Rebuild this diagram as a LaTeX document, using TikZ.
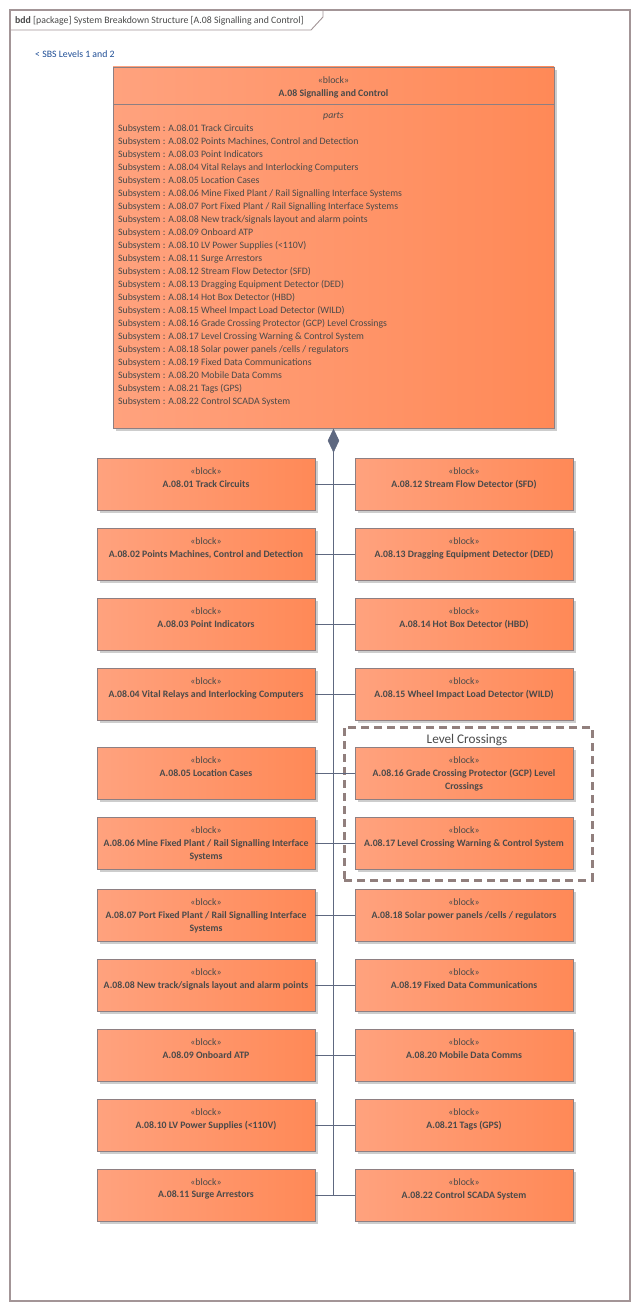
\documentclass[tikz,border=0pt]{standalone}
\usepackage{fontspec}
\setmainfont{Carlito}
\usetikzlibrary{shapes.geometric,shadows}

\definecolor{blkL}{HTML}{FFA27E}
\definecolor{blkR}{HTML}{FF8957}
\definecolor{blkEdge}{HTML}{8E7F82}
\definecolor{shade}{HTML}{CDCDCD}
\definecolor{ink}{HTML}{4A4A4A}
\definecolor{wire}{HTML}{5E6880}
\definecolor{frameEdge}{HTML}{A39597}
\definecolor{groupEdge}{HTML}{917F7D}
\definecolor{linkBlue}{HTML}{1F4E96}

\tikzset{
  x=1pt, y=-1pt,
  smallfont/.style={font=\fontsize{9.8}{13}\selectfont},
  blockbox/.style={draw=blkEdge, line width=0.8pt, left color=blkL, right color=blkR,
    minimum width=218pt, minimum height=52pt, inner sep=0pt,
    drop shadow={shadow xshift=3pt, shadow yshift=-3pt, fill=shade, opacity=1}},
  stereo/.style={smallfont, text=ink, anchor=north, inner sep=0pt},
  blocktitle/.style={text=ink, anchor=north, inner sep=0pt, align=center,
    font=\fontsize{9.8}{13}\selectfont\bfseries},
  wireline/.style={draw=wire, line width=0.9pt},
  groupbox/.style={draw=groupEdge, line width=3pt, dash pattern=on 8pt off 5pt,
    minimum width=248pt, minimum height=153pt, inner sep=0pt},
}

% a block: rectangle plus stereotype and bold name
\newcommand\mkblock[4]{%
  \node[blockbox] (#1) at (#2,#3) {};
  \node[stereo] (#1-s) at ([yshift=-9.6pt]#1.north) {«block»};
  \node[blocktitle] (#1-n) at ([yshift=-22.4pt]#1.north) {#4};
}

\begin{document}
\begin{tikzpicture}
\useasboundingbox (0,0) rectangle (640,1311);
\fill[white] (0,0) rectangle (640,1311);

% diagram frame and name tab
\draw[frameEdge, line width=1.2pt] (10,10) rectangle (630,1301);
\draw[frameEdge, line width=0.9pt] (10,30) -- (311,30) -- (323,17) -- (323,10);
\node[smallfont, text=ink, anchor=base west, inner sep=0pt] (hdr) at (15,23.5)
  {\textbf{bdd} [package] System Breakdown Structure [A.08 Signalling and Control]};
\node[smallfont, text=linkBlue, anchor=base west, inner sep=0pt] (lnk) at (35,57.5)
  {< SBS Levels 1 and 2};

% owning block with its parts compartment
\node[blockbox, minimum width=441pt, minimum height=361pt] (top) at (333.5,247.5) {};
\node[stereo] (top-s) at ([yshift=-9.6pt]top.north) {«block»};
\node[blocktitle] (top-n) at ([yshift=-22.4pt]top.north) {A.08 Signalling and Control};
\draw[blkEdge, line width=0.8pt] (113,104) -- (554,104);
\node[smallfont, text=ink, anchor=base, inner sep=0pt] (top-p) at (333.5,118) {\itshape parts};
\node[smallfont, text=ink, anchor=north west, inner sep=0pt, align=left] (top-l) at (118,124.3) {%
Subsystem : A.08.01 Track Circuits\\
Subsystem : A.08.02 Points Machines, Control and Detection\\
Subsystem : A.08.03 Point Indicators\\
Subsystem : A.08.04 Vital Relays and Interlocking Computers\\
Subsystem : A.08.05 Location Cases\\
Subsystem : A.08.06 Mine Fixed Plant / Rail Signalling Interface Systems\\
Subsystem : A.08.07 Port Fixed Plant / Rail Signalling Interface Systems\\
Subsystem : A.08.08 New track/signals layout and alarm points\\
Subsystem : A.08.09 Onboard ATP\\
Subsystem : A.08.10 LV Power Supplies (<110V)\\
Subsystem : A.08.11 Surge Arrestors\\
Subsystem : A.08.12 Stream Flow Detector (SFD)\\
Subsystem : A.08.13 Dragging Equipment Detector (DED)\\
Subsystem : A.08.14 Hot Box Detector (HBD)\\
Subsystem : A.08.15 Wheel Impact Load Detector (WILD)\\
Subsystem : A.08.16 Grade Crossing Protector (GCP) Level Crossings\\
Subsystem : A.08.17 Level Crossing Warning \& Control System\\
Subsystem : A.08.18 Solar power panels /cells / regulators\\
Subsystem : A.08.19 Fixed Data Communications\\
Subsystem : A.08.20 Mobile Data Comms\\
Subsystem : A.08.21 Tags (GPS)\\
Subsystem : A.08.22 Control SCADA System};

% level crossings group
\node[groupbox] (lc) at (468,803.5) {};
\node[text=ink, font=\fontsize{13.2}{15}\selectfont, inner sep=0pt] (lc-t) at (467,740) {Level Crossings};

% left column
\mkblock{b01}{206}{484}{A.08.01 Track Circuits}
\mkblock{b02}{206}{554}{A.08.02 Points Machines, Control and Detection}
\mkblock{b03}{206}{624}{A.08.03 Point Indicators}
\mkblock{b04}{206}{694}{A.08.04 Vital Relays and Interlocking Computers}
\mkblock{b05}{206}{773}{A.08.05 Location Cases}
\mkblock{b06}{206}{843}{A.08.06 Mine Fixed Plant / Rail Signalling Interface\\Systems}
\mkblock{b07}{206}{915}{A.08.07 Port Fixed Plant / Rail Signalling Interface\\Systems}
\mkblock{b08}{206}{985}{A.08.08 New track/signals layout and alarm points}
\mkblock{b09}{206}{1055}{A.08.09 Onboard ATP}
\mkblock{b10}{206}{1125}{A.08.10 LV Power Supplies (<110V)}
\mkblock{b11}{206}{1195}{A.08.11 Surge Arrestors}

% right column
\mkblock{b12}{464}{484}{A.08.12 Stream Flow Detector (SFD)}
\mkblock{b13}{464}{554}{A.08.13 Dragging Equipment Detector (DED)}
\mkblock{b14}{464}{624}{A.08.14 Hot Box Detector (HBD)}
\mkblock{b15}{464}{694}{A.08.15 Wheel Impact Load Detector (WILD)}
\mkblock{b16}{464}{773}{A.08.16 Grade Crossing Protector (GCP) Level\\Crossings}
\mkblock{b17}{464}{843}{A.08.17 Level Crossing Warning \& Control System}
\mkblock{b18}{464}{915}{A.08.18 Solar power panels /cells / regulators}
\mkblock{b19}{464}{985}{A.08.19 Fixed Data Communications}
\mkblock{b20}{464}{1055}{A.08.20 Mobile Data Comms}
\mkblock{b21}{464}{1125}{A.08.21 Tags (GPS)}
\mkblock{b22}{464}{1195}{A.08.22 Control SCADA System}

% composition: diamond at the owner, shared spine, one branch per row
\node[diamond, fill=wire, draw=wire, line width=0.5pt, minimum width=11pt, minimum height=23pt,
  inner sep=0pt, anchor=north] (dia) at ([yshift=-0.5pt]top.south) {};
\coordinate (spineEnd) at (333.5,1195);
\draw[wireline] (dia.south) -- (spineEnd);
\foreach \l/\r in {b01/b12,b02/b13,b03/b14,b04/b15,b05/b16,b06/b17,
                   b07/b18,b08/b19,b09/b20,b10/b21,b11/b22}
  \draw[wireline] (\l.east) -- (\r.west);
\end{tikzpicture}
\end{document}
